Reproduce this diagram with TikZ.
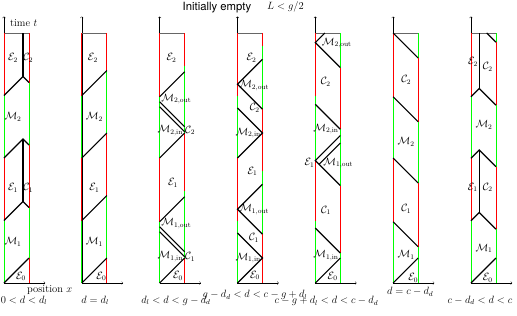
\documentclass[tikz,border=0pt]{standalone}
\usepackage{amsmath, amssymb}
\usepackage{fontspec}
\newfontfamily\heros{TeX Gyre Heros}
\usetikzlibrary{arrows}

\begin{document}
\begin{tikzpicture}[x=1cm, y=1cm, every node/.style={font=\large, inner sep=1pt},
  grn/.style={green, line width=0.9pt}, rd/.style={red, line width=0.9pt},
  wave/.style={black, line width=1.3pt}, lid/.style={black!60, line width=0.9pt}]
\useasboundingbox (-0.16,-1.28) rectangle (20.52,11.32);

\node (title) at (8.52,11.03) {\fontsize{12.9}{15}\heros Initially empty};
\node (cond) at (11.26,11.03) {$L < g/2$};

% 0 < d < d_l
\draw[->] (0,0) -- (0,10.66);
\draw[->] (0,0) -- (1.65,0);
\draw[lid] (0,10) -- (1,10);
\draw[grn] (0,0) -- (0,2.5) (0,5) -- (0,7.5);
\draw[rd] (0,2.5) -- (0,5) (0,7.5) -- (0,10);
\draw[rd] (1,0) -- (1,1) (1,3.02) -- (1,5.52) (1,8.02) -- (1,10);
\draw[grn] (1,1) -- (1,3.02) (1,5.52) -- (1,8.02);
\draw[wave] (0,0) -- (1,1);
\draw[wave] (0,2.5) -- (0.76,3.26) -- (1,3.02);
\draw[wave] (0,5) -- (0.76,5.76) -- (1,5.52);
\draw[wave] (0,7.5) -- (0.76,8.26) -- (1,8.02);
\draw[wave] (0.76,3.26) -- (0.76,5.76) (0.76,8.26) -- (0.76,10);
\node (timea) [anchor=west] at (0.2,10.4) {time $t$};
\node (posa) at (1.83,-0.3) {position $x$};
\node (e2a) at (0.36,9) {$\mathcal{E}_2$};
\node (c2a) at (0.97,9) {$\mathcal{C}_2$};
\node (m2a) at (0.36,6.64) {$\mathcal{M}_2$};
\node (e1a) at (0.36,3.8) {$\mathcal{E}_1$};
\node (c1a) at (0.97,3.8) {$\mathcal{C}_1$};
\node (m1a) at (0.36,1.64) {$\mathcal{M}_1$};
\node (e0a) at (0.68,0.26) {$\mathcal{E}_0$};
\node (casea) at (0.8,-0.7) {$0<d<d_l$};

% d = d_l
\begin{scope}[xshift=3.113cm]
\draw[->] (0,0) -- (0,10.66);
\draw[->] (0,0) -- (1.65,0);
\draw[lid] (0,10) -- (1,10);
\draw[grn] (0,0) -- (0,2.5) (0,5) -- (0,7.5);
\draw[rd] (0,2.5) -- (0,5) (0,7.5) -- (0,10);
\draw[rd] (1,0) -- (1,1) (1,3.5) -- (1,6) (1,8.5) -- (1,10);
\draw[grn] (1,1) -- (1,3.5) (1,6) -- (1,8.5);
\draw[wave] (0,0) -- (1,1);
\draw[wave] (0,2.5) -- (1,3.5);
\draw[wave] (0,5) -- (1,6);
\draw[wave] (0,7.5) -- (1,8.5);
\node (e2b) at (0.44,9) {$\mathcal{E}_2$};
\node (m2b) at (0.5,6.64) {$\mathcal{M}_2$};
\node (e1b) at (0.5,3.8) {$\mathcal{E}_1$};
\node (m1b) at (0.5,1.65) {$\mathcal{M}_1$};
\node (e0b) at (0.78,0.26) {$\mathcal{E}_0$};
\node (caseb) at (0.53,-0.7) {$d=d_l$};
\end{scope}

% d_l < d < g - d_d
\begin{scope}[xshift=6.226cm]
\draw[->] (0,0) -- (0,10.66);
\draw[->] (0,0) -- (1.65,0);
\draw[lid] (0,10) -- (1,10);
\draw[grn] (0,0) -- (0,2.45) (0,5) -- (0,7.45);
\draw[rd] (0,2.45) -- (0,5) (0,7.45) -- (0,10);
\draw[rd] (1,0) -- (1,1) (1,3.7) -- (1,6) (1,8.7) -- (1,10);
\draw[grn] (1,1) -- (1,3.7) (1,6) -- (1,8.7);
\draw[wave] (0,0) -- (1,1);
\draw[wave] (0,2.45) -- (1,3.45);
\draw[wave] (0,2.25) -- (1,1.25) (0,2.05) -- (1,1.05);
\draw[wave] (0,5) -- (1,6);
\draw[wave] (0,7.45) -- (1,8.45);
\draw[wave] (0,7.25) -- (1,6.25) (0,7.05) -- (1,6.05);
\node (e2c) at (0.47,9) {$\mathcal{E}_2$};
\node (m2oc) [anchor=west] at (0.03,7.35) {$\mathcal{M}_{2,\mathrm{out}}$};
\node (m2ic) [anchor=east] at (0.97,6.1) {$\mathcal{M}_{2,\mathrm{in}}$};
\node (c2c) [anchor=west] at (0.98,6.1) {$\mathcal{C}_2$};
\node (e1c) at (0.53,4) {$\mathcal{E}_1$};
\node (m1oc) [anchor=west] at (0.03,2.38) {$\mathcal{M}_{1,\mathrm{out}}$};
\node (m1ic) [anchor=east] at (0.97,1.05) {$\mathcal{M}_{1,\mathrm{in}}$};
\node (c1c) [anchor=west] at (0.98,1.05) {$\mathcal{C}_1$};
\node (e0c) at (0.73,0.28) {$\mathcal{E}_0$};
\node (casec) at (0.65,-0.7) {$d_l<d<g-d_d$};
\end{scope}

% g - d_d < d < c - g + d_l
\begin{scope}[xshift=9.339cm]
\draw[->] (0,0) -- (0,10.66);
\draw[->] (0,0) -- (1.65,0);
\draw[lid] (0,10) -- (1,10);
\draw[grn] (0,0) -- (0,2.5) (0,5) -- (0,7.5);
\draw[rd] (0,2.5) -- (0,5) (0,7.5) -- (0,10);
\draw[rd] (1,0) -- (1,1.95) (1,4.47) -- (1,6.95) (1,9.47) -- (1,10);
\draw[grn] (1,1.95) -- (1,4.47) (1,6.95) -- (1,9.47);
\draw[wave] (0,0) -- (1,1) -- (0,2);
\draw[wave] (1,1.95) -- (0,2.95) -- (1,3.95);
\draw[wave] (0,5) -- (1,6) -- (0,7);
\draw[wave] (1,6.95) -- (0,7.95) -- (1,8.95);
\node (e2d) at (0.56,9) {$\mathcal{E}_2$};
\node (m2od) [anchor=west] at (0.03,7.9) {$\mathcal{M}_{2,\mathrm{out}}$};
\node (c2d) at (0.69,7) {$\mathcal{C}_2$};
\node (m2id) [anchor=east] at (0.97,6) {$\mathcal{M}_{2,\mathrm{in}}$};
\node (e1d) at (0.6,4.47) {$\mathcal{E}_1$};
\node (m1od) [anchor=west] at (0.03,2.93) {$\mathcal{M}_{1,\mathrm{out}}$};
\node (c1d) at (0.66,1.8) {$\mathcal{C}_1$};
\node (m1id) [anchor=east] at (0.97,1) {$\mathcal{M}_{1,\mathrm{in}}$};
\node (e0d) at (0.7,0.3) {$\mathcal{E}_0$};
\node (cased) at (0.7,-0.48) {$g-d_d<d<c-g+d_l$};
\end{scope}

% c - g + d_l < d < c - d_d
\begin{scope}[xshift=12.452cm]
\draw[->] (0,0) -- (0,10.66);
\draw[->] (0,0) -- (1.65,0);
\draw[lid] (0,10) -- (1,10);
\draw[grn] (0,0) -- (0,2.5) (0,4.9) -- (0,7.47);
\draw[rd] (0,2.5) -- (0,4.9) (0,7.47) -- (0,10);
\draw[grn] (1,0) -- (1,1.2) (1,3.9) -- (1,6.15) (1,8.62) -- (1,10);
\draw[rd] (1,1.2) -- (1,3.9) (1,6.15) -- (1,8.62);
\draw[wave] (0,0) -- (1,1);
\draw[wave] (0,2.2) -- (1,1.2);
\draw[wave] (1,3.9) -- (0,4.9) -- (1,5.9);
\draw[wave] (0.15,4.75) -- (1,5.6);
\draw[wave] (0,7.15) -- (1,6.15);
\draw[wave] (1,8.62) -- (0,9.62) -- (0.38,10);
\node (m2oe) [anchor=west] at (0.22,9.6) {$\mathcal{M}_{2,\mathrm{out}}$};
\node (c2e) at (0.42,8.05) {$\mathcal{C}_2$};
\node (m2ie) [anchor=east] at (0.97,6.15) {$\mathcal{M}_{2,\mathrm{in}}$};
\node (e1e) [anchor=east] at (0,4.8) {$\mathcal{E}_1$};
\node (m1oe) [anchor=west] at (0.28,4.8) {$\mathcal{M}_{1,\mathrm{out}}$};
\node (c1e) at (0.43,2.9) {$\mathcal{C}_1$};
\node (m1ie) [anchor=east] at (0.97,1.1) {$\mathcal{M}_{1,\mathrm{in}}$};
\node (e0e) at (0.69,0.27) {$\mathcal{E}_0$};
\node (casee) at (0.44,-0.72) {$c-g+d_l<d<c-d_d$};
\end{scope}

% d = c - d_d
\begin{scope}[xshift=15.565cm]
\draw[->] (0,0) -- (0,10.66);
\draw[->] (0,0) -- (1.65,0);
\draw[lid] (0,10) -- (1,10);
\draw[grn] (0,0) -- (0,2.45) (0,5) -- (0,7.45);
\draw[rd] (0,2.45) -- (0,5) (0,7.45) -- (0,10);
\draw[grn] (1,0) -- (1,1.45) (1,4) -- (1,6.45) (1,9) -- (1,10);
\draw[rd] (1,1.45) -- (1,4) (1,6.45) -- (1,9);
\draw[wave] (0,0) -- (1,1);
\draw[wave] (0,2.45) -- (1,1.45);
\draw[wave] (0,5) -- (1,4);
\draw[wave] (0,7.45) -- (1,6.45);
\draw[wave] (0,10) -- (1,9);
\node (c2f) at (0.52,8.12) {$\mathcal{C}_2$};
\node (m2f) at (0.52,5.65) {$\mathcal{M}_2$};
\node (c1f) at (0.52,2.96) {$\mathcal{C}_1$};
\node (m1f) at (0.52,1.12) {$\mathcal{M}_1$};
\node (e0f) at (0.8,0.21) {$\mathcal{E}_0$};
\node (casef) at (0.68,-0.36) {$d=c-d_d$};
\end{scope}

% c - d_d < d < c
\begin{scope}[xshift=18.678cm]
\draw[->] (0,0) -- (0,10.66);
\draw[->] (0,0) -- (1.65,0);
\draw[lid] (0,10) -- (1,10);
\draw[grn] (0,0) -- (0,2.5) (0,5) -- (0,7.45);
\draw[rd] (0,2.5) -- (0,5) (0,7.45) -- (0,10);
\draw[grn] (1,0) -- (1,2.15) (1,4.65) -- (1,7.12) (1,9.63) -- (1,10);
\draw[rd] (1,2.15) -- (1,4.65) (1,7.12) -- (1,9.63);
\draw[wave] (0,0) -- (1,1);
\draw[wave] (0,2.49) -- (0.33,2.82) -- (1,2.15);
\draw[wave] (0,4.99) -- (0.33,5.32) -- (1,4.65);
\draw[wave] (0,7.45) -- (0.33,7.78) -- (1,7.11);
\draw[wave] (0.33,2.82) -- (0.33,5.32) (0.33,7.78) -- (0.33,10);
\draw[wave] (0.63,10) -- (1,9.63);
\node (e2g) at (0.08,8.85) {$\mathcal{E}_2$};
\node (c2g) at (0.67,8.65) {$\mathcal{C}_2$};
\node (m2g) at (0.52,6.32) {$\mathcal{M}_2$};
\node (e1g) at (0.07,3.83) {$\mathcal{E}_1$};
\node (c1g) at (0.67,3.83) {$\mathcal{C}_2$};
\node (m1g) at (0.52,1.39) {$\mathcal{M}_1$};
\node (e0g) at (0.67,0.21) {$\mathcal{E}_0$};
\node (caseg) at (0.36,-0.7) {$c-d_d<d<c$};
\end{scope}
\end{tikzpicture}
\end{document}
